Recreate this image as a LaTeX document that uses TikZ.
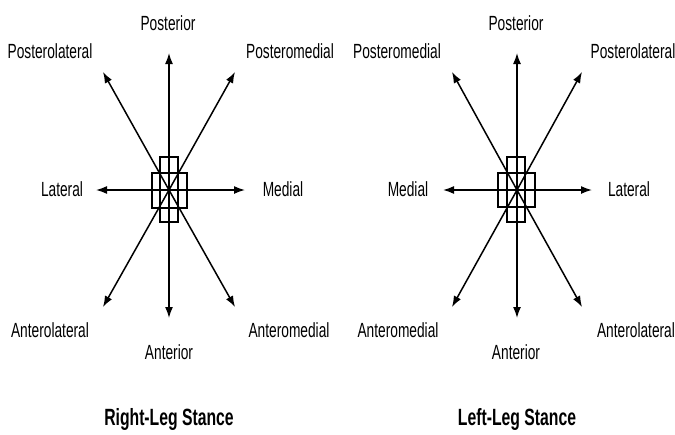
\documentclass[tikz,border=0pt]{standalone}
\usepackage{fontspec}
\newfontfamily\labfont[FakeStretch=0.67]{Liberation Sans}
\usetikzlibrary{arrows.meta}
\begin{document}
\begin{tikzpicture}[x=1pt,y=-1pt,
  dirarrow/.style={line width=1.5pt,-{Latex[length=11pt,width=8pt]}},
  lab/.style={font=\labfont\fontsize{20.5}{21}\selectfont,anchor=base,inner sep=0pt},
  ttl/.style={font=\labfont\bfseries\fontsize{23.5}{25}\selectfont,anchor=base,inner sep=0pt},
  footrect/.style={draw,line width=1.2pt,minimum width=#1,inner sep=0pt},
]
\useasboundingbox (0,0) rectangle (675,434);
\fill[white] (0,0) rectangle (675,434);

% ---------- Right-leg stance ----------
\coordinate (c1) at (169,190);
\node[footrect=18pt,minimum height=65pt] (t1) at (169,189.5) {};
\node[footrect=35pt,minimum height=35pt] (w1) at (169.5,190.5) {};
\coordinate (n1) at (169,53);
\coordinate (s1) at (169,318);
\coordinate (e1) at (245,190);
\coordinate (wW1) at (96,190);
\coordinate (nw1) at (103,72);
\coordinate (ne1) at (235,72);
\coordinate (sw1) at (103,307);
\coordinate (se1) at (235,307);
\foreach \p in {n1,s1,e1,wW1,nw1,ne1,sw1,se1}{\draw[dirarrow] (c1) -- (\p);}

\node[lab] (posA) at (168,30) {Posterior};
\node[lab] (plA) at (50,58) {Posterolateral};
\node[lab] (pmA) at (290,58) {Posteromedial};
\node[lab] (latA) at (62,196) {Lateral};
\node[lab] (medA) at (283,196) {Medial};
\node[lab] (alA) at (50,337) {Anterolateral};
\node[lab] (antA) at (169,359) {Anterior};
\node[lab] (amA) at (289,337) {Anteromedial};
\node[ttl] (title1) at (169,425) {Right-Leg Stance};

% ---------- Left-leg stance ----------
\coordinate (c2) at (517,190);
\node[footrect=18pt,minimum height=65pt] (t2) at (516,189.5) {};
\node[footrect=37pt,minimum height=34pt] (w2) at (516.5,190) {};
\coordinate (n2) at (517,53);
\coordinate (s2) at (517,318);
\coordinate (e2) at (592,190);
\coordinate (wW2) at (443,190);
\coordinate (nw2) at (452,72);
\coordinate (ne2) at (582,72);
\coordinate (sw2) at (452,307);
\coordinate (se2) at (582,307);
\foreach \p in {n2,s2,e2,wW2,nw2,ne2,sw2,se2}{\draw[dirarrow] (c2) -- (\p);}

\node[lab] (posB) at (516,30) {Posterior};
\node[lab] (pmB) at (397,58) {Posteromedial};
\node[lab] (plB) at (633,58) {Posterolateral};
\node[lab] (medB) at (408,196) {Medial};
\node[lab] (latB) at (629,196) {Lateral};
\node[lab] (amB) at (398,337) {Anteromedial};
\node[lab] (antB) at (516,359) {Anterior};
\node[lab] (alB) at (636,337) {Anterolateral};
\node[ttl] (title2) at (517,425) {Left-Leg Stance};
\end{tikzpicture}
\end{document}
